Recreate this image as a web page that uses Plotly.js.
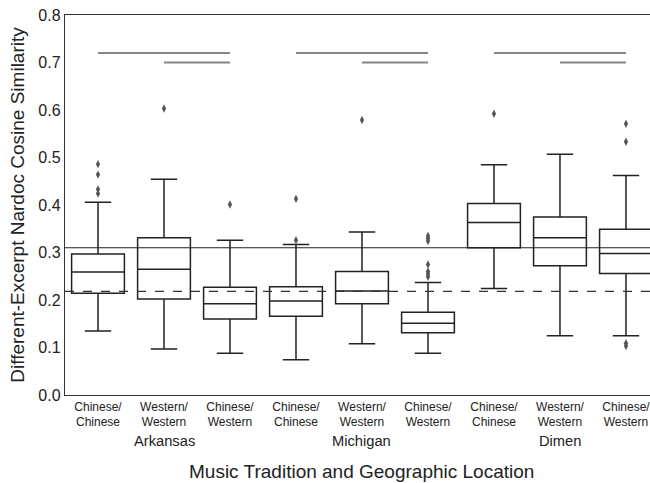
<!DOCTYPE html>
<html>
<head>
<meta charset="utf-8">
<script src="https://cdn.plot.ly/plotly-3.0.1.min.js"></script>
<style>html,body{margin:0;padding:0;background:#fff;}#chart{width:650px;height:483px;}</style>
</head>
<body>
<div id="chart"></div>
<script>
// ---- data ----
const categories = ["Chinese/<br>Chinese","Western/<br>Western","Chinese/<br>Western",
                    "Chinese/<br>Chinese","Western/<br>Western","Chinese/<br>Western",
                    "Chinese/<br>Chinese","Western/<br>Western","Chinese/<br>Western"];
const groups = ["Arkansas","Michigan","Dimen"];
const groupCenters = [1, 4, 7];
const positions = [0,1,2,3,4,5,6,7,8];
const lowerWhisker = [0.135, 0.097, 0.088, 0.074, 0.108, 0.088, 0.224, 0.125, 0.125];
const q1Values     = [0.214, 0.202, 0.160, 0.166, 0.192, 0.131, 0.310, 0.272, 0.256];
const medianValues = [0.259, 0.265, 0.192, 0.198, 0.219, 0.151, 0.363, 0.331, 0.298];
const q3Values     = [0.297, 0.331, 0.227, 0.228, 0.260, 0.174, 0.403, 0.375, 0.349];
const upperWhisker = [0.406, 0.454, 0.326, 0.317, 0.343, 0.237, 0.485, 0.507, 0.462];
const outlierX = [0,0,0,0, 1, 2, 3,3, 4, 5,5,5,5,5,5,5, 6, 8,8,8,8];
const outlierY = [0.486,0.464,0.433,0.424, 0.603, 0.401, 0.413,0.326, 0.579,
                  0.335,0.330,0.324,0.275,0.260,0.255,0.249, 0.592, 0.571,0.533,0.109,0.103];
const solidRef = 0.310;
const dashedRef = 0.218;
const sigPairs = [[0,2,0.72],[1,2,0.70],[3,5,0.72],[4,5,0.70],[6,8,0.72],[7,8,0.70]];

const font = '"Liberation Sans", Arial, Helvetica, sans-serif';

const traces = [
  {
    type: "box",
    x: positions,
    q1: q1Values, median: medianValues, q3: q3Values,
    lowerfence: lowerWhisker, upperfence: upperWhisker,
    width: 0.8,
    whiskerwidth: 0.5,
    fillcolor: "#ffffff",
    line: {color: "#222222", width: 1.5},
    boxpoints: false,
    hoverinfo: "skip",
    showlegend: false
  },
  {
    type: "scatter", mode: "markers",
    x: outlierX, y: outlierY,
    marker: {symbol: "diamond-tall", size: 6, color: "#555555"},
    showlegend: false, hoverinfo: "skip"
  }
];

const shapes = [];
shapes.push({type:"line", xref:"paper", x0:0, x1:1, yref:"y", y0:solidRef, y1:solidRef,
             line:{color:"#222222", width:1.2}, layer:"above"});
shapes.push({type:"line", xref:"paper", x0:0, x1:1, yref:"y", y0:dashedRef, y1:dashedRef,
             line:{color:"#333333", width:1.2, dash:"dash"}, layer:"above"});
sigPairs.forEach(p => {
  shapes.push({type:"line", xref:"x", x0:p[0], x1:p[1], yref:"y", y0:p[2], y1:p[2],
               line:{color:"#858585", width:2.2}});
});

const annotations = groups.map((g,i) => ({
  text: g, xref:"x", x: groupCenters[i], yref:"paper", y: 0, yanchor:"middle",
  yshift: -46, showarrow:false, font:{family:font, size:14.7, color:"#222"}
}));
annotations.push({
  text: "Music Tradition and Geographic Location", xref:"x", x: 4, yref:"paper", y:0,
  yanchor:"middle", yshift:-76, showarrow:false, font:{family:font, size:19, color:"#222"}
});

const layout = {
  width: 650, height: 483,
  margin: {l: 65, r: 0, t: 15, b: 88},
  paper_bgcolor: "#fff", plot_bgcolor: "#fff",
  font: {family: font, color: "#222"},
  showlegend: false,
  xaxis: {
    range: [-0.5, 8.364], tickvals: positions, ticktext: categories,
    showgrid: false, zeroline: false, showline: true, mirror: true,
    linecolor: "#333", linewidth: 1.2, ticks: "", ticklabeloverflow: "allow",
    tickfont: {family: font, size: 12, color:"#222"}
  },
  yaxis: {
    range: [0, 0.8], tickvals: [0,0.1,0.2,0.3,0.4,0.5,0.6,0.7,0.8],
    ticktext: ["0.0","0.1","0.2","0.3","0.4","0.5","0.6","0.7","0.8"],
    showgrid: false, zeroline: false, showline: true, linecolor: "#333", linewidth: 1.2,
    ticks: "", tickfont: {family: font, size: 16, color:"#222"},
    title: {text: "Different-Excerpt Nardoc Cosine Similarity", font: {family: font, size: 19, color:"#222"}, standoff: 8}
  },
  shapes: shapes,
  annotations: annotations
};

Plotly.newPlot("chart", traces, layout, {staticPlot: true, displayModeBar: false});
</script>
</body>
</html>
